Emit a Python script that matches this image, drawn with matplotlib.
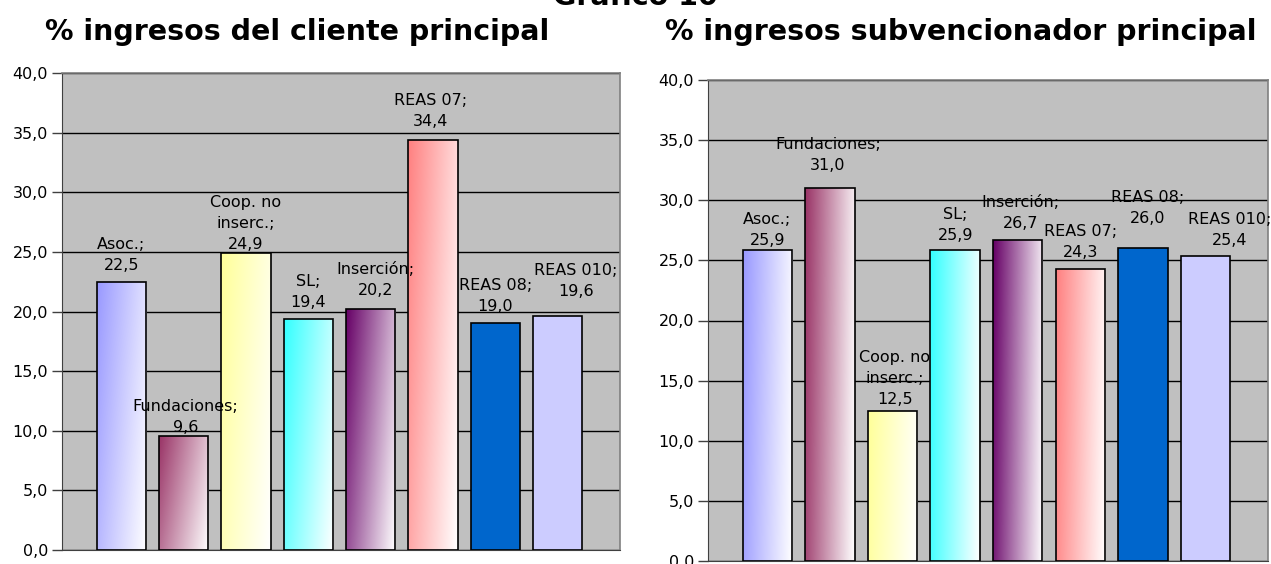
import numpy as np
import matplotlib
matplotlib.use("Agg")
import matplotlib.pyplot as plt
from matplotlib.colors import to_rgb

# ----------------------------------------------------------------------------
# data
# ----------------------------------------------------------------------------
labels = ["Asoc.", "Fundaciones", "Coop. no\ninserc.", "SL", "Inserción",
          "REAS 07", "REAS 08", "REAS 010"]
cliente = [22.5, 9.6, 24.9, 19.4, 20.2, 34.4, 19.0, 19.6]
subvencionador = [25.9, 31.0, 12.5, 25.9, 26.7, 24.3, 26.0, 25.4]
yticks = [0, 5, 10, 15, 20, 25, 30, 35, 40]

colors = ["#9999FF", "#993366", "#FFFF99", "#33FFFF", "#660066",
          "#FF8080", "#0066CC", "#CCCCFF"]
gradient = [True, True, True, True, True, True, False, False]

# label nudges in pixels (dx, gap between bar top and value line)
offs_left = [(0, 18), (2, 10), (0, 10), (0, 18), (5, 20), (-2, 20), (0, 18), (18, 26)]
offs_right = [(0, 11), (-2, 24), (2, 13), (0, 16), (3, 18), (0, 18), (5, 31), (24, 17)]

plt.rcParams["font.family"] = "DejaVu Sans"

fig = plt.figure(figsize=(12.71, 5.64), dpi=100)
fig.patch.set_facecolor("white")
W, H = 1271, 564


def fmt(v):
    return f"{v:.1f}".replace(".", ",")


def grad_image(c, horiz_w=0.8):
    r, g, b = to_rgb(c)
    u = np.linspace(0, 1, 60)[None, :]
    v = np.linspace(0, 1, 120)[:, None]      # 0 = top (origin upper)
    t = np.clip(horiz_w * u + (1 - horiz_w) * v, 0, 1)
    img = np.zeros((120, 60, 3))
    for k, ch in enumerate((r, g, b)):
        img[..., k] = ch + (1 - ch) * t
    return img


def draw_panel(rect_px, values, offs, title, title_x, horiz_w):
    x0, y0, x1, y1 = rect_px
    ax = fig.add_axes([x0 / W, (H - y1) / H, (x1 - x0) / W, (y1 - y0) / H])
    ax.set_facecolor("#C0C0C0")
    ax.set_xlim(-0.95, 8.0)
    ax.set_ylim(0, 40)
    ax.set_yticks(yticks)
    ax.set_yticklabels([fmt(t) for t in yticks], fontsize=11.5)
    ax.set_xticks([])
    ax.yaxis.grid(True, color="black", lw=1.0)
    ax.set_axisbelow(True)
    for s in ("top", "right"):
        ax.spines[s].set_color("#808080")
        ax.spines[s].set_linewidth(1.2)
    ax.spines["left"].set_color("#404040")
    ax.spines["bottom"].set_color("#404040")
    ax.tick_params(axis="y", direction="out", length=7, width=1, color="#404040", pad=3)

    bw = 0.79
    bars = ax.bar(range(len(values)), values, width=bw, color=colors,
                  edgecolor="black", linewidth=1.2, zorder=3)
    for i, (b, v) in enumerate(zip(bars, values)):
        if gradient[i]:
            b.set_facecolor("none")
            im = ax.imshow(grad_image(colors[i], horiz_w), origin="upper",
                           extent=(i - bw / 2, i + bw / 2, 0, v),
                           aspect="auto", zorder=2.5, interpolation="bilinear")
            im.set_clip_path(b)
        dx, dy = offs[i]
        ax.annotate(f"{labels[i]};\n{fmt(v)}", xy=(i, v), xytext=(dx, dy - 9),
                    textcoords="offset pixels", ha="center", va="bottom",
                    fontsize=11.5, linespacing=1.5, zorder=4, annotation_clip=False)
    fig.text(title_x / W, 1 - 32 / H, title, ha="center", va="center",
             fontsize=20.5, fontweight="bold")
    return ax


draw_panel((62, 73, 620, 550), cliente, offs_left,
           "% ingresos del cliente principal", 297, 0.7)
draw_panel((708, 80, 1268, 561), subvencionador, offs_right,
           "% ingresos subvencionador principal", 961, 0.9)

fig.text(0.5, 1 - 5 / H, "Gráfico 10", ha="center", va="baseline",
         fontsize=20.5, fontweight="bold")

plt.savefig("out.png", dpi=100, facecolor="white")
